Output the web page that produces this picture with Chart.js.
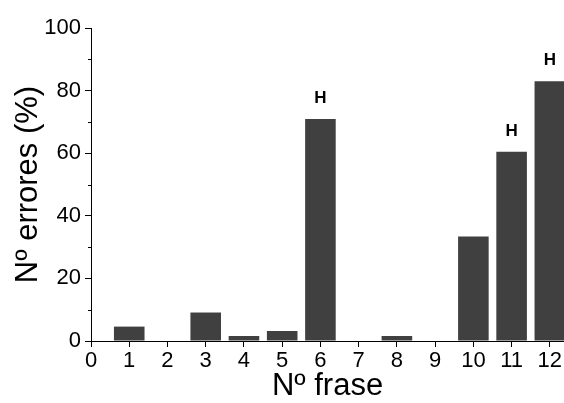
<!DOCTYPE html>
<html>
<head>
<meta charset="utf-8">
<script src="https://cdn.jsdelivr.net/npm/chart.js@4/dist/chart.umd.min.js"></script>
<style>
  html, body { margin: 0; padding: 0; background: #ffffff; }
  #wrap { width: 564px; height: 403px; position: relative; }
</style>
</head>
<body>
<div id="wrap"><canvas id="c" width="564" height="403"></canvas></div>
<script>
// ---- data ----
const frases  = [1, 2, 3, 4, 5, 6, 7, 8, 9, 10, 11, 12];
const errores = [4.6, 0, 9.1, 1.6, 3.2, 70.9, 0, 1.6, 0, 33.4, 60.5, 83.0];
const marcas  = ['', '', '', '', '', 'H', '', '', '', '', 'H', 'H'];
const yTicksMajor = [0, 20, 40, 60, 80, 100];
const yTicksMinor = [10, 30, 50, 70, 90];
const xTitle = 'Nº frase';
const yTitle = 'Nº errores (%)';

const FONT = '"Liberation Sans", Arial, Helvetica, sans-serif';

const minorTicks = {
  id: 'minorTicks',
  afterDraw(chart) {
    const y = chart.scales.y;
    const ctx = chart.ctx;
    ctx.save();
    ctx.strokeStyle = '#000';
    ctx.lineWidth = 1;
    yTicksMinor.forEach(v => {
      const py = Math.round(y.getPixelForValue(v)) + 0.5;
      ctx.beginPath();
      ctx.moveTo(y.right - 3, py);
      ctx.lineTo(y.right, py);
      ctx.stroke();
    });
    ctx.restore();
  }
};

const barMarks = {
  id: 'barMarks',
  afterDatasetsDraw(chart) {
    const meta = chart.getDatasetMeta(0);
    const ctx = chart.ctx;
    ctx.save();
    ctx.fillStyle = '#000';
    ctx.font = 'bold 17px ' + FONT;
    ctx.textAlign = 'center';
    ctx.textBaseline = 'alphabetic';
    meta.data.forEach((el, i) => {
      if (marcas[i]) ctx.fillText(marcas[i], el.x, el.y - 16);
    });
    ctx.restore();
  }
};

new Chart(document.getElementById('c'), {
  type: 'bar',
  data: {
    datasets: [{
      data: frases.map((f, i) => ({ x: f, y: errores[i] })),
      backgroundColor: '#404040',
      borderColor: '#404040',
      borderWidth: 0,
      barPercentage: 0.8,
      categoryPercentage: 1.0
    }]
  },
  options: {
    responsive: false,
    animation: false,
    layout: { padding: { top: 28, right: 0, left: 0, bottom: 0 } },
    plugins: { legend: { display: false }, tooltip: { enabled: false } },
    scales: {
      x: {
        type: 'linear',
        min: 0,
        max: 12.37,
        offset: false,
        grid: { display: true, drawOnChartArea: false, drawTicks: true, tickLength: 6, tickColor: '#000', offset: false },
        border: { display: true, color: '#000', width: 1 },
        ticks: {
          stepSize: 1,
          includeBounds: false,
          color: '#000',
          padding: 1,
          font: { family: FONT, size: 22 },
          callback: v => String(v)
        },
        title: {
          display: true,
          text: xTitle,
          color: '#000',
          font: { family: FONT, size: 31, lineHeight: 1 },
          padding: { top: 0, bottom: 1 }
        },
        afterFit: s => { s.height = 62; }
      },
      y: {
        min: 0,
        max: 100,
        grid: {
          display: true, drawOnChartArea: false, drawTicks: true, tickLength: 6,
          tickColor: ctx => (ctx.tick && ctx.tick.value % 20 === 0) ? '#000' : 'rgba(0,0,0,0)'
        },
        border: { display: true, color: '#000', width: 1 },
        ticks: {
          stepSize: 10,
          color: '#000',
          padding: 4,
          font: { family: FONT, size: 22 },
          callback: v => yTicksMajor.includes(v) ? String(v) : ''
        },
        title: {
          display: true,
          text: yTitle,
          color: '#000',
          font: { family: FONT, size: 31, lineHeight: 1 },
          padding: { top: 13, bottom: 0 }
        },
        afterFit: s => { s.width = 91; }
      }
    }
  },
  plugins: [minorTicks, barMarks]
});
</script>
</body>
</html>
